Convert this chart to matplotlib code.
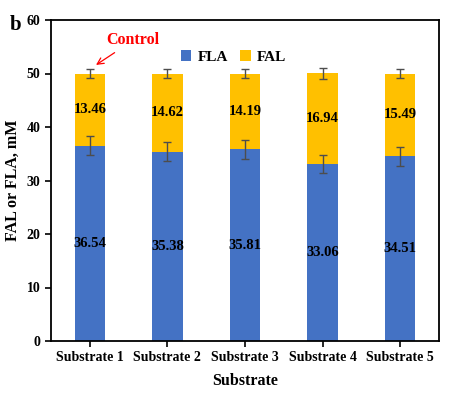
import matplotlib
matplotlib.use("Agg")
import matplotlib.pyplot as plt
import numpy as np

plt.rcParams['font.family'] = 'Liberation Serif'
plt.rcParams['font.weight'] = 'bold'

substrates = ['Substrate 1', 'Substrate 2', 'Substrate 3', 'Substrate 4', 'Substrate 5']
fla = [36.54, 35.38, 35.81, 33.06, 34.51]
fal = [13.46, 14.62, 14.19, 16.94, 15.49]
fla_err = [1.8, 1.8, 1.7, 1.7, 1.8]
total_err = [0.8, 0.8, 0.8, 1.0, 0.8]

blue = '#4472C4'
yellow = '#FFC000'

fig = plt.figure(figsize=(4.66, 3.98), dpi=100)
ax = fig.add_axes([51/466, 1 - 341/398, 388/466, 321/398])

x = np.arange(len(substrates))
w = 0.39
ax.bar(x, fla, w, color=blue, label='FLA', zorder=2)
ax.bar(x, fal, w, bottom=fla, color=yellow, label='FAL', zorder=2)

# error bars on the FLA part and on the stacked total
total = np.array(fla) + np.array(fal)
ekw = dict(fmt='none', ecolor='#4d4d4d', elinewidth=1, capsize=3, capthick=1, zorder=3)
ax.errorbar(x, fla, yerr=fla_err, **ekw)
ax.errorbar(x, total, yerr=total_err, **ekw)

for i in range(len(x)):
    ax.text(x[i], fla[i] / 2, f'{fla[i]:.2f}', ha='center', va='center', fontsize=10.5)
    ax.text(x[i], fla[i] + fal[i] / 2, f'{fal[i]:.2f}', ha='center', va='center', fontsize=10.5)

ax.set_xlim(-0.5, 4.5)
ax.set_ylim(0, 60)
ax.set_yticks(range(0, 61, 10))
ax.set_xticks(x)
ax.set_xticklabels(substrates)
ax.tick_params(labelsize=10, width=1.2, length=4, direction='out')
for s in ax.spines.values():
    s.set_linewidth(1.3)

ax.set_xlabel('Substrate', fontsize=11.5, fontweight='bold', labelpad=6)
ax.set_ylabel('FAL or FLA, mM', fontsize=11.5, fontweight='bold')

ax.annotate('Control', xy=(0.08, 51.6), xytext=(0.56, 56.2), color='red',
            fontsize=11.5, fontweight='bold', ha='center', va='center',
            arrowprops=dict(arrowstyle='->', color='red', lw=0.9, shrinkA=2, shrinkB=0))

ax.legend(loc='center', bbox_to_anchor=(0.47, 0.885), ncol=2, frameon=False,
          fontsize=11, handlelength=0.7, handleheight=0.7, handletextpad=0.4,
          columnspacing=0.8)

fig.text(10/466, 1 - 25/398, 'b', fontsize=15, fontweight='bold', ha='left', va='center')

fig.savefig('out.png', dpi=100)
